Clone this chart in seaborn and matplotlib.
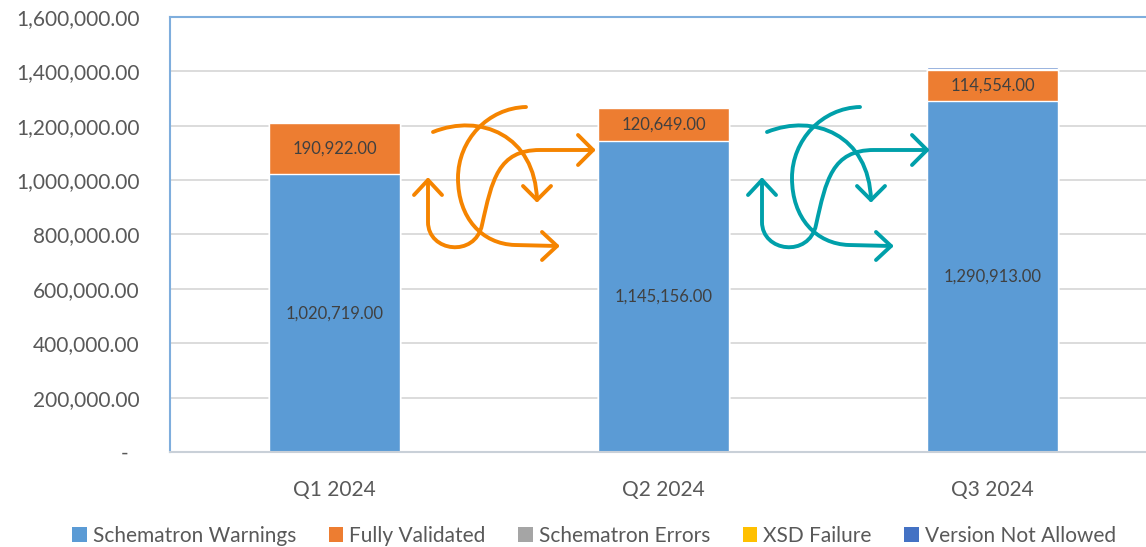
import numpy as np
import pandas as pd
import matplotlib
matplotlib.use("Agg")
import matplotlib.pyplot as plt
from matplotlib.path import Path
from matplotlib.patches import PathPatch, Patch
import seaborn as sns

# data
quarters = ["Q1 2024", "Q2 2024", "Q3 2024"]
series_names = ["Schematron Warnings", "Fully Validated", "Schematron Errors",
                "XSD Failure", "Version Not Allowed"]
schematron_warnings = [1020719, 1145156, 1290913]
fully_validated = [190922, 120649, 114554]
schematron_errors = [0, 0, 3500]
xsd_failure = [0, 0, 500]
version_not_allowed = [0, 0, 5500]
y_ticks = [0, 200000, 400000, 600000, 800000, 1000000, 1200000, 1400000, 1600000]

colors = ["#5B9BD5", "#ED7D31", "#A5A5A5", "#FFC000", "#4472C4"]
TXT = "#595959"

sns.set_theme(style="white")
plt.rcParams['font.family'] = ['Lato', 'DejaVu Sans']

df = pd.DataFrame({
    "quarter": quarters,
    series_names[0]: schematron_warnings,
    series_names[1]: fully_validated,
    series_names[2]: schematron_errors,
    series_names[3]: xsd_failure,
    series_names[4]: version_not_allowed,
})
cum = df[series_names].cumsum(axis=1)

W, H = 1146, 547
fig = plt.figure(figsize=(W / 100, H / 100), dpi=100)
ax = fig.add_axes([170 / W, (H - 452) / H, (1157 - 170) / W, 435 / H])

# stacked bars: draw cumulative totals from the top layer down
for name, col in reversed(list(zip(series_names, colors))):
    sns.barplot(x=df["quarter"], y=cum[name], color=col, width=0.40,
                saturation=1, ax=ax, zorder=2)

# value labels in the two big segments
for i in range(len(quarters)):
    ax.text(i, schematron_warnings[i] / 2, f"{schematron_warnings[i]:,.2f}",
            ha="center", va="center", fontsize=12, color="#404040", zorder=4)
    ax.text(i, schematron_warnings[i] + fully_validated[i] / 2,
            f"{fully_validated[i]:,.2f}", ha="center", va="center",
            fontsize=12, color="#404040", zorder=4)

ax.set_xlim(-0.5, 2.5)
ax.set_ylim(0, 1600000)
ax.set_yticks(y_ticks)
ax.set_yticklabels(["-  " if v == 0 else f"{v:,.2f}" for v in y_ticks])
ax.set_xlabel("")
ax.set_ylabel("")
ax.yaxis.grid(True, color="#D9D9D9", linewidth=1.3, zorder=0)
ax.set_axisbelow(True)
ax.tick_params(axis="y", length=0, pad=22, labelsize=15, labelcolor=TXT)
ax.tick_params(axis="x", length=0, pad=20, labelsize=15, labelcolor=TXT)
for s in ["left", "top"]:
    ax.spines[s].set_color("#7FAEDD")
    ax.spines[s].set_linewidth(1.5)
ax.spines["bottom"].set_color("#C9D0D8")
ax.spines["bottom"].set_linewidth(1.5)
ax.spines["right"].set_visible(False)

handles = [Patch(facecolor=c, edgecolor="none") for c in colors]
fig.legend(handles, series_names, loc="center", bbox_to_anchor=(594 / W, 1 - 536 / H),
           ncol=5, frameon=False, fontsize=15, handlelength=0.7, handleheight=0.7,
           handletextpad=0.3, columnspacing=1.55, labelcolor=TXT)

# decorative "cycle" arrows drawn in pixel space
over = fig.add_axes([0, 0, 1, 1], zorder=5)
over.set_xlim(0, W)
over.set_ylim(H, 0)
over.axis("off")
over.patch.set_alpha(0)

M, C4, L = Path.MOVETO, Path.CURVE4, Path.LINETO


def cycle_icon(dx, color):
    lw = 2.8
    pieces = [
        # big C curve ending with arrow to the right
        ([(526, 107), (488, 108), (458, 140), (458, 178),
          (458, 218), (482, 244), (515, 245), (557, 246)],
         [M, C4, C4, C4, C4, C4, C4, L]),
        # top arc ending with arrow down
        ([(433, 132), (480, 113), (535, 135), (537, 200)],
         [M, C4, C4, C4]),
        # S curve from up arrow to right arrow
        ([(428, 180), (428, 222), (428, 252), (475, 258), (482, 225),
          (492, 180), (498, 150), (540, 150), (593, 150)],
         [M, L, C4, C4, C4, C4, C4, C4, L]),
        # arrowheads
        ([(542, 232), (557, 246), (542, 260)], [M, L, L]),
        ([(523, 186), (537, 200), (551, 186)], [M, L, L]),
        ([(414, 195), (428, 180), (442, 195)], [M, L, L]),
        ([(578, 135), (593, 150), (578, 165)], [M, L, L]),
    ]
    for pts, codes in pieces:
        pts = [(x + dx, y) for x, y in pts]
        over.add_patch(PathPatch(Path(pts, codes), facecolor="none", edgecolor=color,
                                 linewidth=lw, capstyle="round", joinstyle="round"))


cycle_icon(0, "#F58400")
cycle_icon(334, "#00A0AA")

fig.savefig("out.png", dpi=100)
